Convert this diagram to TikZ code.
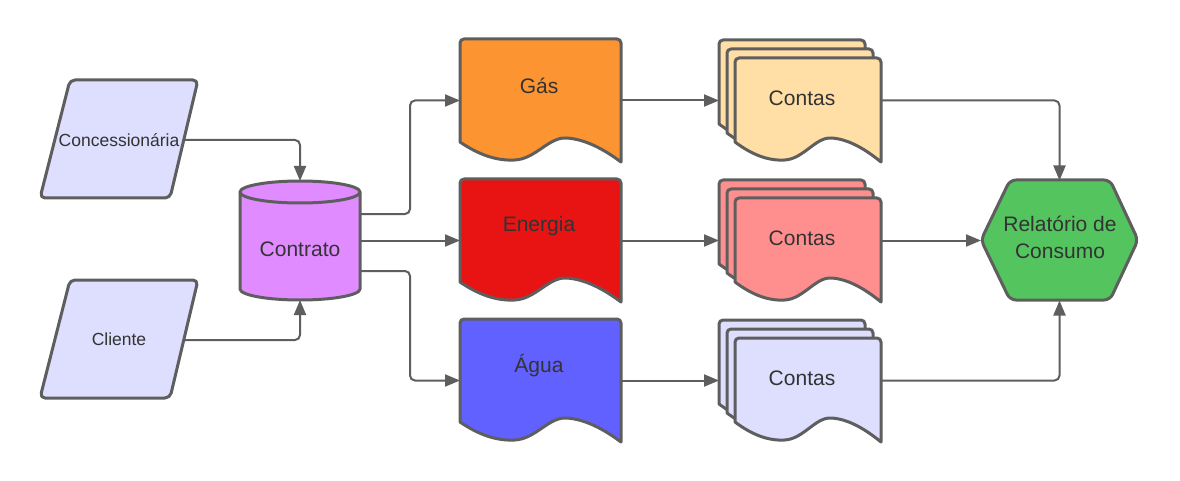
\documentclass[tikz,border=0pt]{standalone}
\usepackage{fontspec}
\setmainfont{Liberation Sans}
\usetikzlibrary{arrows.meta,calc}
\definecolor{strokeC}{HTML}{5E5E5E}
\definecolor{txtC}{HTML}{333333}
\definecolor{paraC}{HTML}{DEDEFF}
\definecolor{cylC}{HTML}{E08BFF}
\definecolor{gasC}{HTML}{FC9432}
\definecolor{enC}{HTML}{E81313}
\definecolor{aguaC}{HTML}{6161FF}
\definecolor{cgasC}{HTML}{FFDFA6}
\definecolor{cenC}{HTML}{FF8F8F}
\definecolor{caguaC}{HTML}{DEDEFF}
\definecolor{hexC}{HTML}{54C45E}
\tikzset{
  shapeline/.style={draw=strokeC, line width=3pt, line join=round},
  conn/.style={draw=strokeC, line width=2pt, rounded corners=5pt,
    -{Triangle[length=15pt,width=12pt]}},
  anchorbox/.style={draw=none, inner sep=0pt, outer sep=0pt},
  bigtxt/.style={text=txtC, font=\fontsize{21}{27}\selectfont, align=center, inner sep=0pt},
  smalltxt/.style={text=txtC, font=\fontsize{17.5}{21}\selectfont, align=center, inner sep=0pt},
}
\newcommand\docshape[5]{% x y w h fill
  \filldraw[shapeline, fill=#5]
   (#1,#2+#4-20) -- (#1,#2+4) .. controls (#1,#2+1.8) and (#1+1.8,#2) .. (#1+4,#2)
   -- (#1+#3-4,#2) .. controls (#1+#3-1.8,#2) and (#1+#3,#2+1.8) .. (#1+#3,#2+4)
   -- (#1+#3,#2+#4)
   .. controls (#1+0.9*#3,#2+#4-12) and (#1+0.78*#3,#2+#4-23) .. (#1+0.66*#3,#2+#4-24)
   .. controls (#1+0.55*#3,#2+#4-25) and (#1+0.47*#3,#2+#4-3) .. (#1+0.34*#3,#2+#4-2)
   .. controls (#1+0.22*#3,#2+#4-1) and (#1+0.11*#3,#2+#4-8) .. (#1,#2+#4-20) -- cycle;}
\newcommand\multidoc[3]{% x y fill
  \docshape{#1}{#2}{146}{104}{#3}
  \docshape{#1+8}{#2+9}{146}{104}{#3}
  \docshape{#1+16}{#2+18}{146}{104}{#3}}
\newcommand\paragram[2]{% y fill
  \filldraw[shapeline, fill=#2, rounded corners=5pt]
   (134,#1) -- (198,#1) -- (170,#1+118) -- (40,#1+118) -- (70,#1) -- cycle;}
\begin{document}
\begin{tikzpicture}[x=1pt,y=-1pt]
\useasboundingbox (0,0) rectangle (1180,481);
\fill[white] (0,0) rectangle (1180,481);

% parallelograms
\paragram{80}{paraC}
\paragram{280}{paraC}
\node[smalltxt] (conc) at (119,140) {Concessionária};
\node[smalltxt] (cli) at (119,339) {Cliente};
\coordinate (concR) at (184,140);
\coordinate (cliR) at (184,340);

% cylinder
\filldraw[shapeline, fill=cylC]
  (240,192) -- (240,289) arc[start angle=180,end angle=360,x radius=60pt,y radius=11pt]
  -- (360,192) arc[start angle=0,end angle=180,x radius=60pt,y radius=11pt] -- cycle;
\draw[shapeline] (240,192) arc[start angle=180,end angle=360,x radius=60pt,y radius=11pt];
\node[anchorbox, minimum width=120pt, minimum height=119pt] (cyl) at (300,240.5) {};
\node[bigtxt] (cylT) at (300,249) {Contrato};

% documents
\docshape{460}{39}{161}{123}{gasC}
\docshape{460}{179}{161}{123}{enC}
\docshape{460}{319}{161}{123}{aguaC}
\node[anchorbox, minimum width=161pt, minimum height=123pt] (gas) at (540.5,100.5) {};
\node[anchorbox, minimum width=161pt, minimum height=123pt] (en) at (540.5,240.5) {};
\node[anchorbox, minimum width=161pt, minimum height=123pt] (agua) at (540.5,380.5) {};
\node[bigtxt] (gasT) at (539,86) {Gás};
\node[bigtxt] (enT) at (539,226) {Energia};
\node[bigtxt] (aguaT) at (539,366) {Água};

% multi documents
\multidoc{719}{40}{cgasC}
\multidoc{719}{180}{cenC}
\multidoc{719}{320}{caguaC}
\node[anchorbox, minimum width=162pt, minimum height=122pt] (c1) at (800,100.5) {};
\node[anchorbox, minimum width=162pt, minimum height=122pt] (c2) at (800,240.5) {};
\node[anchorbox, minimum width=162pt, minimum height=122pt] (c3) at (800,380.5) {};
\node[bigtxt] (c1T) at (802,98) {Contas};
\node[bigtxt] (c2T) at (802,238) {Contas};
\node[bigtxt] (c3T) at (802,378) {Contas};

% hexagon
\filldraw[shapeline, fill=hexC, rounded corners=6pt]
  (1060,180) -- (1110,180) -- (1138,240) -- (1110,300) -- (1010,300) -- (981,240) -- (1010,180) -- cycle;
\node[anchorbox, minimum width=157pt, minimum height=120pt] (hex) at (1059.5,240.5) {};
\node[bigtxt] (hexT) at (1060,237) {Relatório de\\Consumo};

% connectors
\draw[conn] (concR) -| (cyl.north);
\draw[conn] (cliR) -| (cyl.south);
\draw[conn] ([yshift=26.5pt]cyl.east) -- ++(50,0) |- (gas.west);
\draw[conn] (cyl.east) -- (en.west);
\draw[conn] ([yshift=-30.5pt]cyl.east) -- ++(50,0) |- (agua.west);
\draw[conn] (gas.east) -- (c1.west);
\draw[conn] (en.east) -- (c2.west);
\draw[conn] (agua.east) -- (c3.west);
\draw[conn] (c1.east) -| (hex.north);
\draw[conn] (c2.east) -- (hex.west);
\draw[conn] (c3.east) -| (hex.south);
\end{tikzpicture}
\end{document}
